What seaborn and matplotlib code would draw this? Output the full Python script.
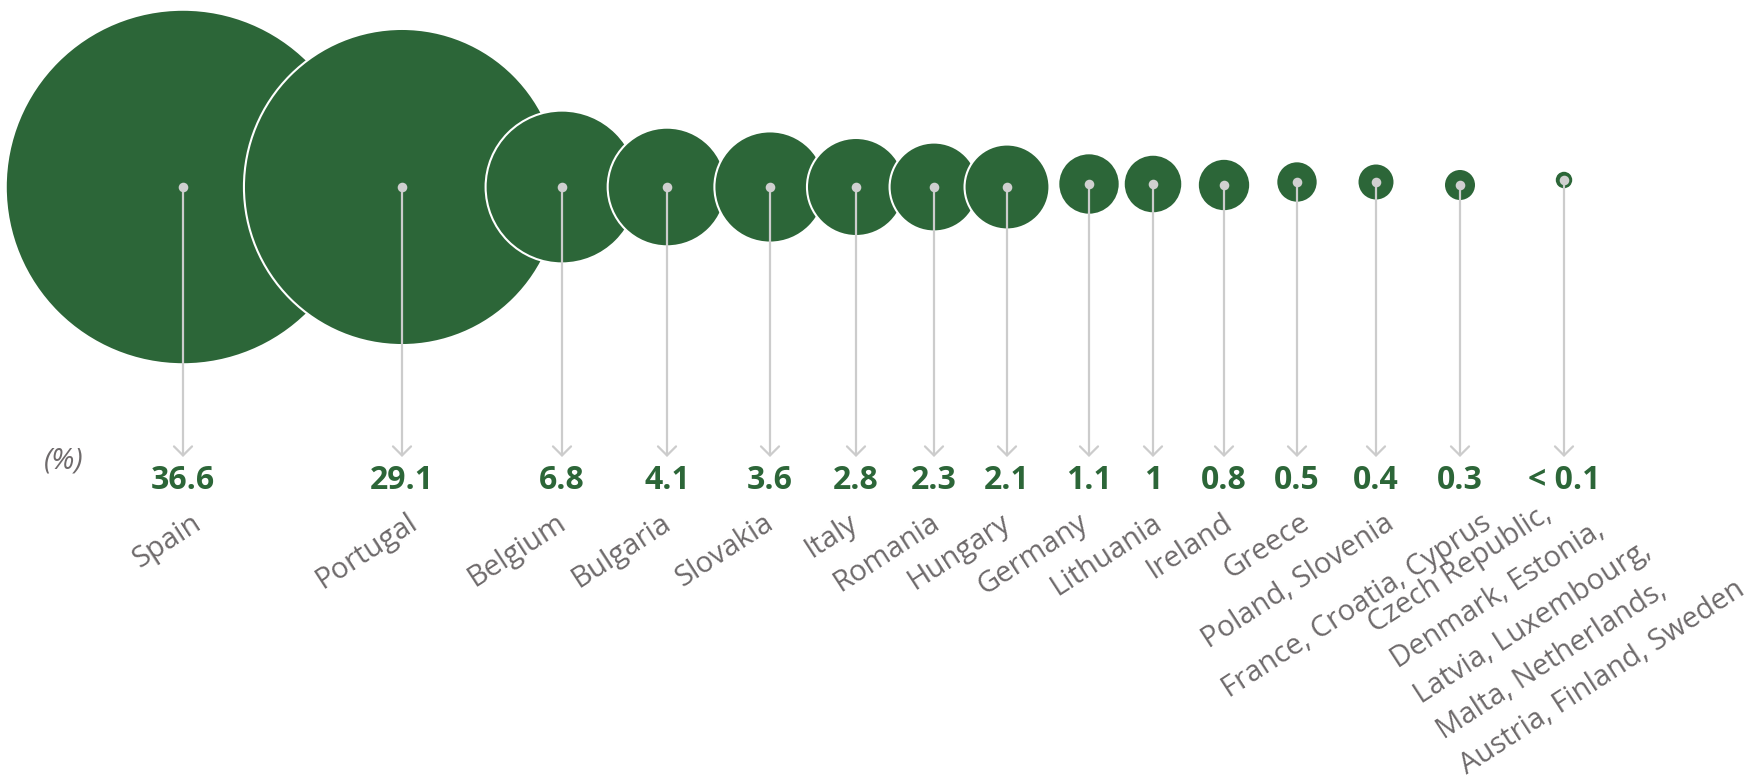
import numpy as np
import pandas as pd
import matplotlib
matplotlib.use("Agg")
import matplotlib.pyplot as plt
import seaborn as sns

# ---------------- data ----------------
countries = [
    "Spain", "Portugal", "Belgium", "Bulgaria", "Slovakia", "Italy", "Romania",
    "Hungary", "Germany", "Lithuania", "Ireland", "Greece", "Poland, Slovenia",
    "France, Croatia, Cyprus",
    "Czech Republic,\nDenmark, Estonia,\nLatvia, Luxembourg,\nMalta, Netherlands,\nAustria, Finland, Sweden",
]
values = [36.6, 29.1, 6.8, 4.1, 3.6, 2.8, 2.3, 2.1, 1.1, 1.0, 0.8, 0.5, 0.4, 0.3, 0.1]
value_labels = ["36.6", "29.1", "6.8", "4.1", "3.6", "2.8", "2.3", "2.1", "1.1", "1",
                "0.8", "0.5", "0.4", "0.3", "< 0.1"]
unit_label = "(%)"

# ---------------- layout (pixel coordinates) ----------------
x_pos = [183, 402, 562, 667, 770, 856, 934, 1007, 1089, 1153, 1224, 1297, 1376, 1460, 1564]
y_pos = [187, 187, 187, 187, 187, 187, 187, 187, 184, 184, 185, 182, 182, 185, 180]
label_dx = [20, 17, 5, 5, 5, 3, 7, 5, 0, 10, 10, 14, 20, 33, 0]
W, H = 1750, 784
ARROW_Y = 457
VALUE_Y = 480
LABEL_Y = 527
ROT = 33

GREEN = "#2c6638"
GREY_LINE = "#cccccc"
GREY_TEXT = "#6e6a6b"

sns.set_theme(style="white")
plt.rcParams["font.family"] = ["Open Sans", "DejaVu Sans"]

df = pd.DataFrame({"x": x_pos, "y": y_pos, "value": values})

fig = plt.figure(figsize=(W / 100, H / 100), dpi=100)
ax = fig.add_axes([0, 0, 1, 1])

# marker area (pt^2) proportional to value: radius_px = 29.3*sqrt(v)
k = (2 * 29.3 * 0.72) ** 2
vmin, vmax = min(values), max(values)
sns.scatterplot(
    data=df, x="x", y="y", size="value",
    sizes=(k * vmin, k * vmax), size_norm=(vmin, vmax),
    color=GREEN, edgecolor="white", linewidth=1.5, alpha=1,
    legend=False, ax=ax, zorder=2,
)

for xi, yi in zip(x_pos, y_pos):
    ax.annotate(
        "", xy=(xi, ARROW_Y), xytext=(xi, yi),
        arrowprops=dict(arrowstyle="->,head_length=0.65,head_width=0.65",
                        color=GREY_LINE, lw=1.6, shrinkA=0, shrinkB=0,
                        mutation_scale=10),
        zorder=3,
    )
ax.scatter(x_pos, y_pos, s=48, color="#d0d0d0", zorder=4, linewidths=0)

for xi, lab in zip(x_pos, value_labels):
    ax.text(xi, VALUE_Y, lab, ha="center", va="center", fontsize=23,
            fontweight="bold", color=GREEN)

for xi, dx, name in zip(x_pos, label_dx, countries):
    if "\n" in name:
        ax.text(1460, 764, name, ha="left", va="baseline", rotation=ROT,
                rotation_mode="anchor", fontsize=21, color=GREY_TEXT,
                multialignment="left", linespacing=1.6)
    else:
        ax.text(xi + dx, LABEL_Y, name, ha="right", va="baseline", rotation=ROT,
                rotation_mode="anchor", fontsize=21, color=GREY_TEXT)

ax.text(64, 461, unit_label, ha="center", va="center", fontsize=21,
        style="italic", color=GREY_TEXT)

ax.set_xlim(0, W)
ax.set_ylim(H, 0)
ax.set_axis_off()
fig.savefig("out.png", dpi=100, facecolor="white")
